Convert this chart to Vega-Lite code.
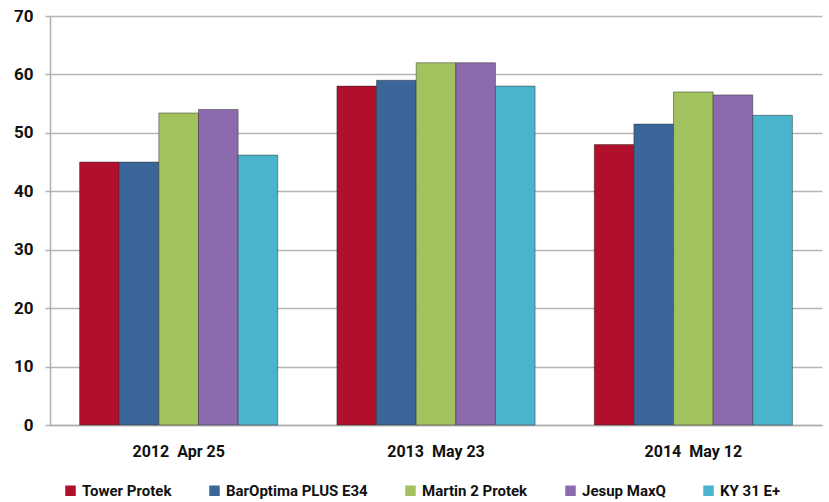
{
  "$schema": "https://vega.github.io/schema/vega-lite/v6.json",
  "autosize": {"type": "none"},
  "width": 772,
  "height": 409,
  "padding": {"left": 50, "top": 16, "right": 7, "bottom": 77},
  "background": "white",
  "config": {
    "view": {"stroke": null},
    "font": "Roboto",
    "axis": {"labelFont": "Roboto", "labelFontWeight": "bold", "labelColor": "#111111"}
  },
  "data": {
    "values": [
      {"date": "2012\u00a0\u00a0Apr 25", "variety": "Tower Protek", "value": 45.0},
      {"date": "2012\u00a0\u00a0Apr 25", "variety": "BarOptima PLUS E34", "value": 45.0},
      {"date": "2012\u00a0\u00a0Apr 25", "variety": "Martin 2 Protek", "value": 53.4},
      {"date": "2012\u00a0\u00a0Apr 25", "variety": "Jesup MaxQ", "value": 54.0},
      {"date": "2012\u00a0\u00a0Apr 25", "variety": "KY 31 E+", "value": 46.2},
      {"date": "2013\u00a0\u00a0May 23", "variety": "Tower Protek", "value": 58.0},
      {"date": "2013\u00a0\u00a0May 23", "variety": "BarOptima PLUS E34", "value": 59.0},
      {"date": "2013\u00a0\u00a0May 23", "variety": "Martin 2 Protek", "value": 62.0},
      {"date": "2013\u00a0\u00a0May 23", "variety": "Jesup MaxQ", "value": 62.0},
      {"date": "2013\u00a0\u00a0May 23", "variety": "KY 31 E+", "value": 58.0},
      {"date": "2014\u00a0\u00a0May 12", "variety": "Tower Protek", "value": 48.0},
      {"date": "2014\u00a0\u00a0May 12", "variety": "BarOptima PLUS E34", "value": 51.5},
      {"date": "2014\u00a0\u00a0May 12", "variety": "Martin 2 Protek", "value": 57.0},
      {"date": "2014\u00a0\u00a0May 12", "variety": "Jesup MaxQ", "value": 56.5},
      {"date": "2014\u00a0\u00a0May 12", "variety": "KY 31 E+", "value": 53.0}
    ]
  },
  "mark": {"type": "bar", "stroke": "#2a2a2a", "strokeWidth": 0.8, "strokeOpacity": 0.6},
  "encoding": {
    "x": {
      "field": "date", "type": "nominal", "sort": null,
      "scale": {"paddingInner": 0.23, "paddingOuter": 0.115},
      "axis": {
        "title": null, "labelAngle": 0, "labelFontSize": 16, "labelPadding": 18,
        "ticks": false, "domainColor": "#b0b0b0", "domainWidth": 1.5
      }
    },
    "xOffset": {"field": "variety", "type": "nominal", "sort": null},
    "y": {
      "field": "value", "type": "quantitative",
      "scale": {"domain": [0, 70], "nice": false},
      "axis": {
        "title": null, "values": [0, 10, 20, 30, 40, 50, 60, 70], "labelFontSize": 17,
        "labelPadding": 12, "tickSize": 5, "tickColor": "#b0b0b0", "tickWidth": 1.5,
        "domainColor": "#b0b0b0", "domainWidth": 1.5,
        "grid": true, "gridColor": "#b5b5b5", "gridWidth": 1.5
      }
    },
    "color": {
      "field": "variety", "type": "nominal", "sort": null,
      "scale": {
        "domain": ["Tower Protek", "BarOptima PLUS E34", "Martin 2 Protek", "Jesup MaxQ", "KY 31 E+"],
        "range": ["#B0102C", "#3A6699", "#A2C260", "#8B6BAD", "#4BB4CD"]
      },
      "legend": {
        "title": null, "orient": "none", "legendX": 13, "legendY": 467, "direction": "horizontal",
        "symbolType": "square", "symbolSize": 110, "symbolStrokeWidth": 0,
        "labelFont": "Roboto", "labelFontWeight": "bold", "labelFontSize": 15, "labelColor": "#111111",
        "columnPadding": 35, "labelLimit": 300
      }
    }
  }
}
